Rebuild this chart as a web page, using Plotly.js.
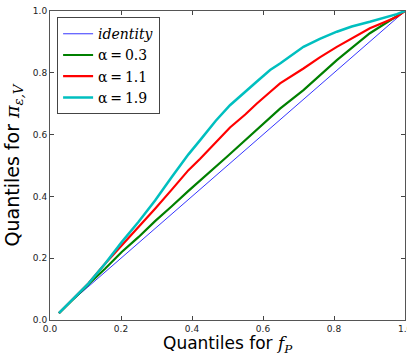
<!DOCTYPE html>
<html>
<head>
<meta charset="utf-8">
<script src="https://cdn.plot.ly/plotly-3.0.1.min.js"></script>
<style>html,body{margin:0;padding:0;background:#fff;}#chart{width:407px;height:356px;}</style>
</head>
<body>
<div id="chart"></div>
<script>
// identity line
const identityX = [0.025, 1.0];
const identityY = [0.025, 1.0];
// alpha = 0.3 (green)
const greenX = [0.025, 0.061, 0.108, 0.155, 0.202, 0.249, 0.296, 0.343, 0.39, 0.5, 0.62, 0.648, 0.714, 0.808, 0.901, 1.0];
const greenY = [0.022, 0.063, 0.115, 0.166, 0.22, 0.268, 0.32, 0.368, 0.418, 0.53, 0.657, 0.684, 0.744, 0.841, 0.928, 1.0];
// alpha = 1.1 (red)
const redX = [0.025, 0.061, 0.108, 0.155, 0.202, 0.249, 0.296, 0.343, 0.39, 0.423, 0.467, 0.507, 0.55, 0.582, 0.62, 0.648, 0.714, 0.76, 0.808, 0.85, 0.901, 0.95, 0.977, 1.0];
const redY = [0.022, 0.065, 0.118, 0.182, 0.241, 0.299, 0.36, 0.422, 0.485, 0.522, 0.575, 0.623, 0.665, 0.70, 0.738, 0.766, 0.814, 0.85, 0.884, 0.912, 0.944, 0.968, 0.981, 1.0];
// alpha = 1.9 (cyan)
const cyanX = [0.025, 0.061, 0.108, 0.155, 0.202, 0.249, 0.296, 0.343, 0.39, 0.423, 0.467, 0.507, 0.55, 0.582, 0.62, 0.648, 0.714, 0.76, 0.808, 0.85, 0.901, 0.95, 0.977, 1.0];
const cyanY = [0.022, 0.065, 0.118, 0.182, 0.252, 0.317, 0.387, 0.463, 0.536, 0.582, 0.645, 0.695, 0.74, 0.771, 0.809, 0.83, 0.884, 0.91, 0.933, 0.95, 0.965, 0.98, 0.99, 1.0];
const tickVals = [0, 0.2, 0.4, 0.6, 0.8, 1.0];
const yTickText = ["0.0", "0.2", "0.4", "0.6", "0.8", "1.0"];
const xTickText = ["0.0", "0.2", "0.4", "0.6", "0.8", "1.0"];
const legendNames = ["<i>identity</i>", "α\u2009=\u20090.3", "α\u2009=\u20091.1", "α\u2009=\u20091.9"];
const xTitle = "Quantiles for <span style=\"font-family:DejaVu Serif\"><i>f</i><sub><i>P</i></sub></span>";
const yTitle = "Quantiles for <span style=\"font-family:DejaVu Serif\"><i>π</i><sub><i>ε,V</i></sub></span>";

const serif = "DejaVu Serif";
const traces = [
  {x: identityX, y: identityY, mode: "lines", name: legendNames[0], line: {color: "#0000ff", width: 0.8}},
  {x: greenX, y: greenY, mode: "lines", name: legendNames[1], line: {color: "#008000", width: 2.2}},
  {x: redX, y: redY, mode: "lines", name: legendNames[2], line: {color: "#ff0000", width: 2.2}},
  {x: cyanX, y: cyanY, mode: "lines", name: legendNames[3], line: {color: "#00bfbf", width: 2.5}}
];
const tickFont = {family: "DejaVu Sans", size: 9, color: "#222"};
const axisCommon = {
  range: [0, 1], tickvals: tickVals, ticks: "inside", ticklen: 4, tickcolor: "#444",
  showline: true, linecolor: "#555", linewidth: 1, mirror: "ticks", showgrid: false, zeroline: false,
  tickfont: tickFont
};
const layout = {
  width: 407, height: 356,
  margin: {l: 50, r: 2, t: 11, b: 36},
  paper_bgcolor: "#fff", plot_bgcolor: "#fff",
  showlegend: true,
  legend: {
    x: 0.02, y: 0.98, xanchor: "left", yanchor: "top",
    bordercolor: "#444", borderwidth: 1, bgcolor: "#fff",
    font: {family: serif, size: 14, color: "#000"},
    tracegroupgap: 0
  },
  xaxis: Object.assign({}, axisCommon, {ticktext: xTickText}),
  yaxis: Object.assign({}, axisCommon, {
    ticktext: yTickText,
    title: {text: yTitle, font: {family: "DejaVu Sans", size: 19, color: "#000"}, standoff: 8}
  }),
  annotations: [
    {x: tickVals[5], xref: "x", y: 0, yref: "paper", text: xTickText[5], showarrow: false,
     xanchor: "center", yanchor: "top", yshift: -2, font: tickFont},
    {x: 0.5, xref: "paper", y: 0, yref: "paper", text: xTitle, showarrow: false,
     xanchor: "center", yanchor: "top", yshift: -11, font: {family: "DejaVu Sans", size: 17, color: "#000"}}
  ]
};
Plotly.newPlot("chart", traces, layout, {displayModeBar: false, staticPlot: true});
</script>
</body>
</html>
